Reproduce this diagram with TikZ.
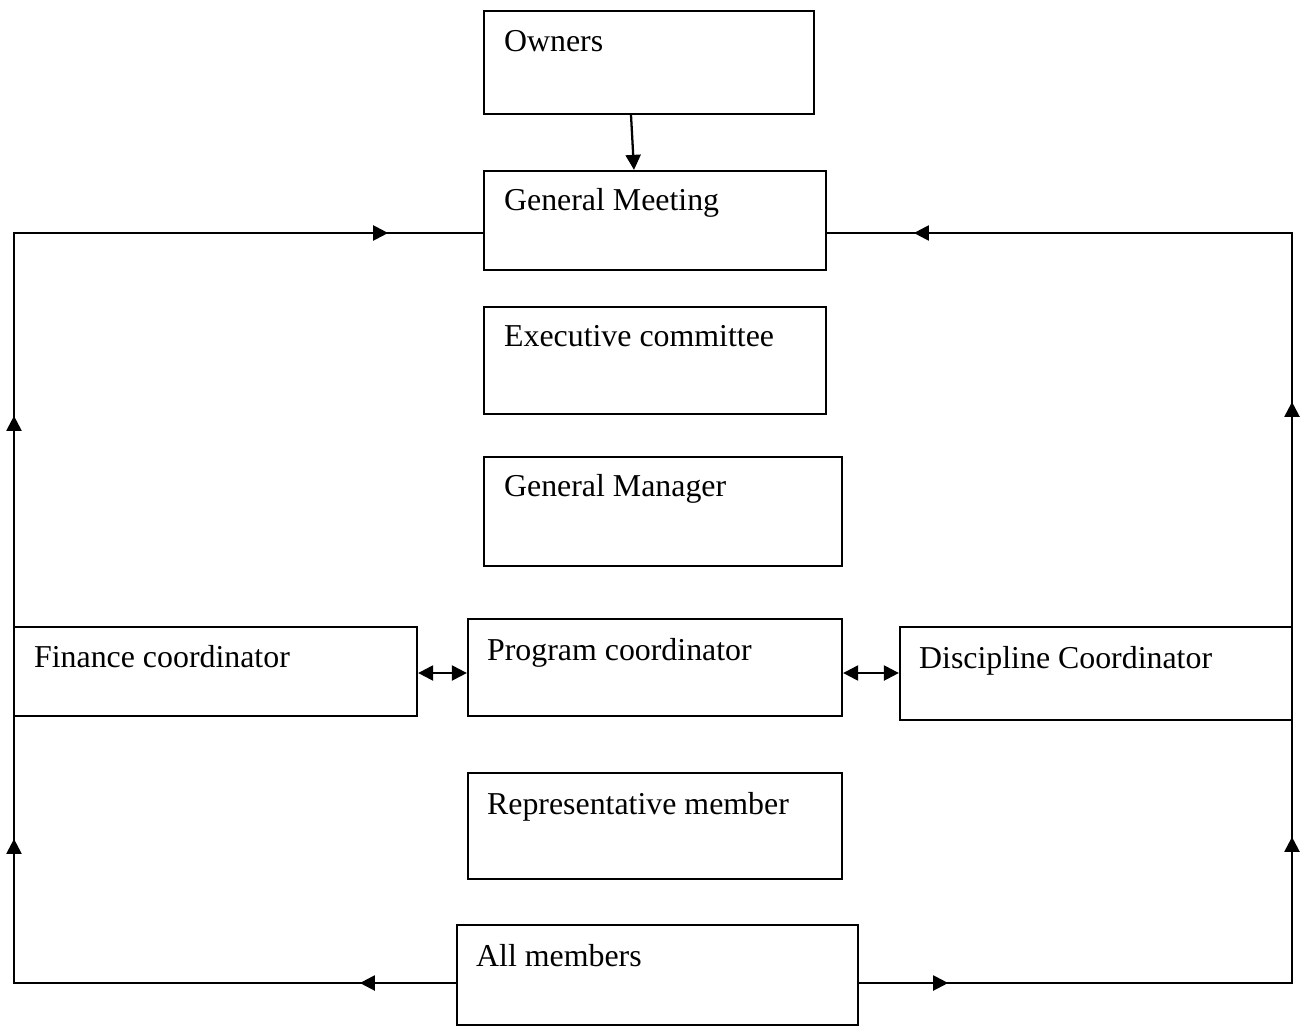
\documentclass[tikz,border=0pt]{standalone}
\usepackage{fontspec}
\setmainfont{Liberation Serif}
\usetikzlibrary{arrows.meta,fit,calc,decorations.markings}

\begin{document}
\begin{tikzpicture}[x=0.75pt,y=-0.75pt,
  box/.style={draw, line width=1.7pt, inner sep=0pt},
  lbl/.style={anchor=base west, inner sep=0pt, font=\fontsize{23.9}{28}\selectfont},
  link/.style={line width=1.7pt},
  >={Triangle[length=11.25pt,width=11.25pt]},
]
\useasboundingbox (0,0) rectangle (1301,1028);

% boxes
\node[box, fit={(484,11) (814,114)}] (own) {};
\node[box, fit={(484,171) (826,270)}] (gm) {};
\node[box, fit={(484,307) (826,414)}] (exe) {};
\node[box, fit={(484,457) (842,566)}] (man) {};
\node[box, fit={(14,627) (417,716)}] (fin) {};
\node[box, fit={(468,619) (842,716)}] (prog) {};
\node[box, fit={(900,627) (1292,720)}] (disc) {};
\node[box, fit={(468,773) (842,879)}] (rep) {};
\node[box, fit={(457,925) (858,1025)}] (all) {};

% box labels
\node[lbl] (tOwn)  at ($(own.north west)+(21,42)$) {Owners};
\node[lbl] (tGm)   at ($(gm.north west)+(21,41)$) {General Meeting};
\node[lbl] (tExe)  at ($(exe.north west)+(21,41)$) {Executive committee};
\node[lbl] (tMan)  at ($(man.north west)+(21,41)$) {General Manager};
\node[lbl] (tFin)  at ($(fin.north west)+(21,42)$) {Finance coordinator};
\node[lbl] (tProg) at ($(prog.north west)+(20,43)$) {Program coordinator};
\node[lbl] (tDisc) at ($(disc.north west)+(20,43)$) {Discipline Coordinator};
\node[lbl] (tRep)  at ($(rep.north west)+(20,43)$) {Representative member};
\node[lbl] (tAll)  at ($(all.north west)+(20,43)$) {All members};

% loop corners
\coordinate (lbot) at (14,983);
\coordinate (ltop) at (14,233);
\coordinate (rbot) at (1292,983);
\coordinate (rtop) at (1292,233);

% owners to general meeting
\draw[link,->] ($(own.south)+(-18,0)$) -- ($(gm.north)+(-21,0)$);

% left feedback loop
\draw[link, postaction={decorate}, decoration={markings,
    mark=at position 72pt with {\arrow{>}},
    mark=at position 439.5pt with {\arrow{>}},
    mark=at position 756.75pt with {\arrow{>}},
    mark=at position 1174.5pt with {\arrow{>}}}]
  (lbot -| all.west) -- (lbot) -- (ltop) -- (ltop -| gm.west);

% right feedback loop
\draw[link, postaction={decorate}, decoration={markings,
    mark=at position 66.75pt with {\arrow{>}},
    mark=at position 434.25pt with {\arrow{>}},
    mark=at position 760.5pt with {\arrow{>}},
    mark=at position 1170.75pt with {\arrow{>}}}]
  (rbot -| all.east) -- (rbot) -- (rtop) -- (rtop -| gm.east);

% coordinator links
\coordinate (mid) at (0,673);
\draw[link,<->] (mid -| fin.east) -- (mid -| prog.west);
\draw[link,<->] (mid -| prog.east) -- (mid -| disc.west);
\end{tikzpicture}
\end{document}
